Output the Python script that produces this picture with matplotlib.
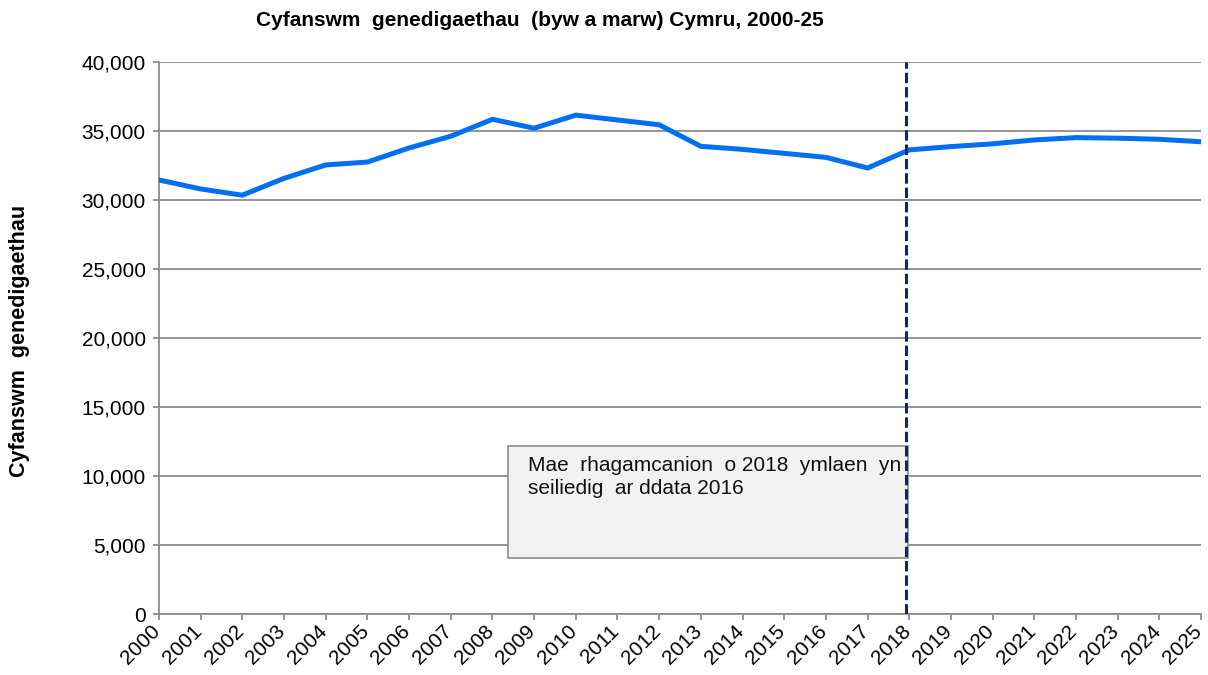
import matplotlib
matplotlib.use("Agg")
import matplotlib.pyplot as plt
from matplotlib.patches import Rectangle

# ---------------------------------------------------------------------------
# Data
# ---------------------------------------------------------------------------
years = list(range(2000, 2026))
births = [31450, 30800, 30350, 31570, 32540, 32750, 33770, 34620, 35850, 35200,
          36150, 35800, 35450, 33890, 33670, 33380, 33090, 32320, 33630, 33870,
          34070, 34350, 34520, 34480, 34400, 34220]

projection_start = 2017.92
note_text = "Mae  rhagamcanion  o 2018  ymlaen  yn\nseiliedig  ar ddata 2016"
note_box = (2008.37, 4060, 9.6, 8110)   # x, y, width, height in data units

title = "Cyfanswm  genedigaethau  (byw a marw) Cymru, 2000-25"
ylabel = "Cyfanswm  genedigaethau"

plt.rcParams["font.family"] = ["Liberation Sans", "DejaVu Sans"]

fig = plt.figure(figsize=(12.08, 6.75), dpi=100)
ax = fig.add_axes([159 / 1208, 1 - 614 / 675, (1201 - 159) / 1208, (614 - 62) / 675])

GRID = "#8c8c8c"

ax.plot(years, births, color="#0070F0", lw=3.6, solid_joinstyle="miter", zorder=3)
ax.axvline(projection_start, color="#0A2A66", lw=2.2, ls=(0, (3.4, 1.3)), zorder=4)

bx, by, bw, bh = note_box
ax.add_patch(Rectangle((bx, by), bw, bh, facecolor="#F2F2F2", edgecolor=GRID,
                       lw=1.2, zorder=2))
ax.text(bx + 0.48, by + bh - 700, note_text, ha="left", va="top",
        fontsize=15, linespacing=1.3, color="#111111", zorder=5)

ax.set_xlim(2000, 2025)
ax.set_ylim(0, 40000)
ax.set_yticks(range(0, 40001, 5000))
ax.set_yticklabels([f"{v:,}" for v in range(0, 40001, 5000)])
ax.set_xticks(years)
ax.set_xticklabels([])
# rotated year labels, nudged right like the original
for y in years:
    ax.annotate(str(y), xy=(y, 0), xycoords=("data", "axes fraction"),
                xytext=(3.6, -5.5), textcoords="offset points",
                rotation=45, ha="right", va="top", fontsize=15)

ax.grid(axis="y", color=GRID, lw=1.3)
ax.set_axisbelow(True)
for s in ("top", "right"):
    ax.spines[s].set_visible(False)
for s in ("left", "bottom"):
    ax.spines[s].set_color(GRID)
    ax.spines[s].set_linewidth(1.3)
ax.tick_params(axis="both", colors=GRID, labelcolor="black", labelsize=15,
               length=4.5, width=1.3)
ax.tick_params(axis="y", pad=5)

fig.text(540 / 1208, 1 - 20 / 675, title, ha="center", va="center",
         fontsize=15, fontweight="bold")
fig.text(20 / 1208, 1 - 341 / 675, ylabel, ha="center", va="center",
         rotation=90, fontsize=15.5, fontweight="bold")

fig.savefig("out.png", dpi=100)
